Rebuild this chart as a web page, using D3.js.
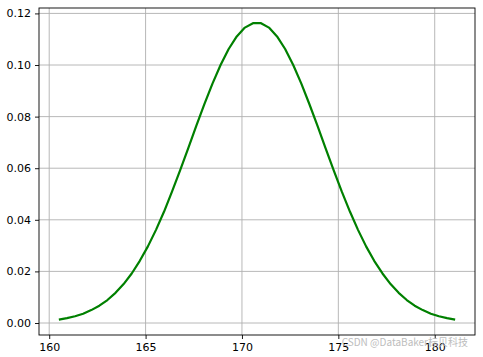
<!DOCTYPE html>
<html>
<head>
<meta charset="utf-8">
<script src="https://cdn.jsdelivr.net/npm/d3@7"></script>
<style>
  body { margin: 0; background: #fff; }
  svg { display: block; }
  text { font-family: "DejaVu Sans", sans-serif; }
</style>
</head>
<body>
<svg id="chart"></svg>
<script>
const WIDTH = 483;
const HEIGHT = 357;

// values (height, density)
var heights = [160.50, 160.92, 161.34, 161.76, 162.18, 162.60, 163.02, 163.44, 163.86, 164.28,
               164.70, 165.12, 165.54, 165.96, 166.37, 166.79, 167.21, 167.63, 168.05, 168.47,
               168.89, 169.31, 169.73, 170.15, 170.57, 170.99, 171.40, 171.82, 172.24, 172.66,
               173.08, 173.50, 173.92, 174.34, 174.76, 175.18, 175.60, 176.02, 176.44, 176.86,
               177.29, 177.71, 178.13, 178.55, 178.96, 179.38, 179.80, 180.22, 180.64, 181.06];
var density = [0.0013, 0.0019, 0.0026, 0.0036, 0.0050, 0.0067, 0.0089, 0.0117, 0.0151, 0.0192,
               0.0241, 0.0297, 0.0361, 0.0432, 0.0509, 0.0592, 0.0677, 0.0764, 0.0848, 0.0928,
               0.1000, 0.1062, 0.1111, 0.1145, 0.1162, 0.1162, 0.1145, 0.1111, 0.1062, 0.1000,
               0.0928, 0.0848, 0.0764, 0.0677, 0.0592, 0.0509, 0.0432, 0.0361, 0.0297, 0.0241,
               0.0192, 0.0151, 0.0117, 0.0089, 0.0067, 0.0050, 0.0036, 0.0026, 0.0019, 0.0013];
var xTicks = [160, 165, 170, 175, 180];
var yTicks = [0.00, 0.02, 0.04, 0.06, 0.08, 0.10, 0.12];
var watermark = 'CSDN @DataBaker标贝科技';

var margin = {left: 39, top: 8, right: 8, bottom: 22};
var plotW = WIDTH - margin.left - margin.right;
var plotH = HEIGHT - margin.top - margin.bottom;

var svg = d3.select('#chart')
    .attr('width', WIDTH)
    .attr('height', HEIGHT);

var xScale = d3.scaleLinear().domain([159.47, 182.09]).range([0, plotW]);
var yScale = d3.scaleLinear().domain([-0.00465, 0.1221]).range([plotH, 0]);

var g = svg.append('g')
    .attr('transform', 'translate(' + margin.left + ',' + margin.top + ')');

// grid
g.append('g').selectAll('line').data(xTicks).enter().append('line')
    .attr('x1', d => xScale(d)).attr('x2', d => xScale(d))
    .attr('y1', 0).attr('y2', plotH)
    .attr('stroke', '#b0b0b0').attr('stroke-width', 0.9);
g.append('g').selectAll('line').data(yTicks).enter().append('line')
    .attr('x1', 0).attr('x2', plotW)
    .attr('y1', d => yScale(d)).attr('y2', d => yScale(d))
    .attr('stroke', '#b0b0b0').attr('stroke-width', 0.9);

// curve
var line = d3.line()
    .x((d, i) => xScale(heights[i]))
    .y(d => yScale(d));
g.append('path')
    .datum(density)
    .attr('d', line)
    .attr('fill', 'none')
    .attr('stroke', '#008000')
    .attr('stroke-width', 2.2)
    .attr('stroke-linejoin', 'round');

// axes
var xAxis = d3.axisBottom(xScale).tickValues(xTicks).tickFormat(d3.format('d'))
    .tickSizeInner(4).tickSizeOuter(0).tickPadding(4);
var yAxis = d3.axisLeft(yScale).tickValues(yTicks).tickFormat(d3.format('.2f'))
    .tickSizeInner(4).tickSizeOuter(0).tickPadding(4);

var gx = g.append('g').attr('transform', 'translate(0,' + plotH + ')').call(xAxis);
var gy = g.append('g').call(yAxis);
[gx, gy].forEach(function(a) {
  a.select('.domain').remove();
  a.selectAll('line').attr('stroke', '#000').attr('stroke-width', 0.9);
  a.selectAll('text').attr('fill', '#000').style('font-size', '11px')
    .style('font-family', '"DejaVu Sans", sans-serif');
});

// frame
g.append('rect')
    .attr('x', 0).attr('y', 0).attr('width', plotW).attr('height', plotH)
    .attr('fill', 'none').attr('stroke', '#000').attr('stroke-width', 0.9);

// watermark
svg.append('text')
    .attr('x', 468).attr('y', 346)
    .attr('text-anchor', 'end')
    .attr('fill', '#bdbdbd')
    .style('font-size', '10px')
    .style('font-family', '"Noto Sans CJK SC", "DejaVu Sans", sans-serif')
    .text(watermark);
</script>
</body>
</html>
